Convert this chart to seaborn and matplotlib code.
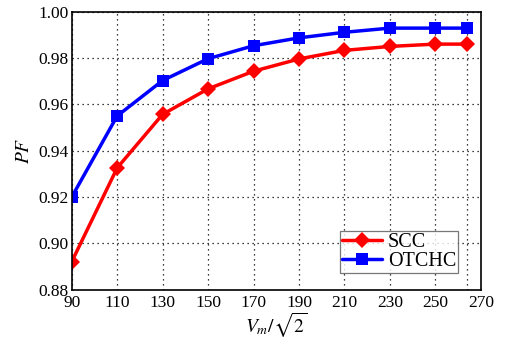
import numpy as np
import pandas as pd
import matplotlib
matplotlib.use("Agg")
import matplotlib.pyplot as plt
import seaborn as sns

# datos
vm = [90, 110, 130, 150, 170, 190, 210, 230, 250, 264]
pf_scc = [0.8921, 0.9326, 0.9557, 0.9667, 0.9743, 0.9796, 0.9833, 0.9850, 0.9860, 0.9860]
pf_otchc = [0.9200, 0.9550, 0.9703, 0.9797, 0.9853, 0.9887, 0.9911, 0.9929, 0.9929, 0.9929]
xtick_labels = ["90", "110", "130", "150", "170", "190", "210", "230", "250", ""]
yticks = [0.88, 0.90, 0.92, 0.94, 0.96, 0.98, 1.00]

df = pd.DataFrame({
    "x": vm + vm,
    "pf": pf_scc + pf_otchc,
    "metodo": ["SCC"] * len(vm) + ["OTCHC"] * len(vm),
})

sns.set_style("white")
plt.rcParams["font.family"] = ["Liberation Serif", "DejaVu Serif"]
plt.rcParams["mathtext.fontset"] = "stix"
plt.rcParams["text.color"] = "black"
plt.rcParams["xtick.color"] = "black"
plt.rcParams["ytick.color"] = "black"
plt.rcParams["axes.labelcolor"] = "black"

fig = plt.figure(figsize=(5.05, 3.43), dpi=100)
ax = fig.add_axes([0.142, 0.155, 0.81, 0.811])

sns.lineplot(data=df, x="x", y="pf", hue="metodo", style="metodo",
             palette={"SCC": "#ff0000", "OTCHC": "#0000ff"},
             markers={"SCC": "D", "OTCHC": "s"}, dashes=False,
             linewidth=2.5, markersize=8.5, markeredgewidth=0, ax=ax)

ax.set_xlim(90, 270)
ax.set_ylim(0.88, 1.00)
# rejilla vertical en los puntos de datos, etiqueta 270 en el borde
ax.set_xticks(vm)
ax.set_xticklabels(xtick_labels)
ax.set_xticks([270], minor=True)
ax.set_xticklabels(["270"], minor=True)
ax.set_yticks(yticks)
ax.set_yticklabels(["%.2f" % t for t in yticks])
ax.tick_params(axis="y", which="both", length=0, labelsize=12.5, pad=2)
ax.tick_params(axis="x", which="both", length=0, labelsize=12.5, pad=4)

ax.grid(False)
ax.grid(True, axis="both", which="major", linestyle=(0, (1, 3)), color="black", linewidth=0.9)
ax.set_axisbelow(True)

for s in ax.spines.values():
    s.set_color("black")
    s.set_linewidth(1.2)

ax.set_xlabel(r"$V_m/\sqrt{2}$", fontsize=14, labelpad=0)
ax.set_ylabel(r"$PF$", fontsize=14, labelpad=4)

leg = ax.legend(loc="lower right", bbox_to_anchor=(0.955, 0.045), fontsize=14.5,
                frameon=True, fancybox=False, edgecolor="#555555",
                handlelength=2.0, handletextpad=0.3, borderpad=0.1,
                labelspacing=0.0, borderaxespad=0.2)
leg.get_frame().set_linewidth(0.9)

fig.savefig("out.png", dpi=100)
